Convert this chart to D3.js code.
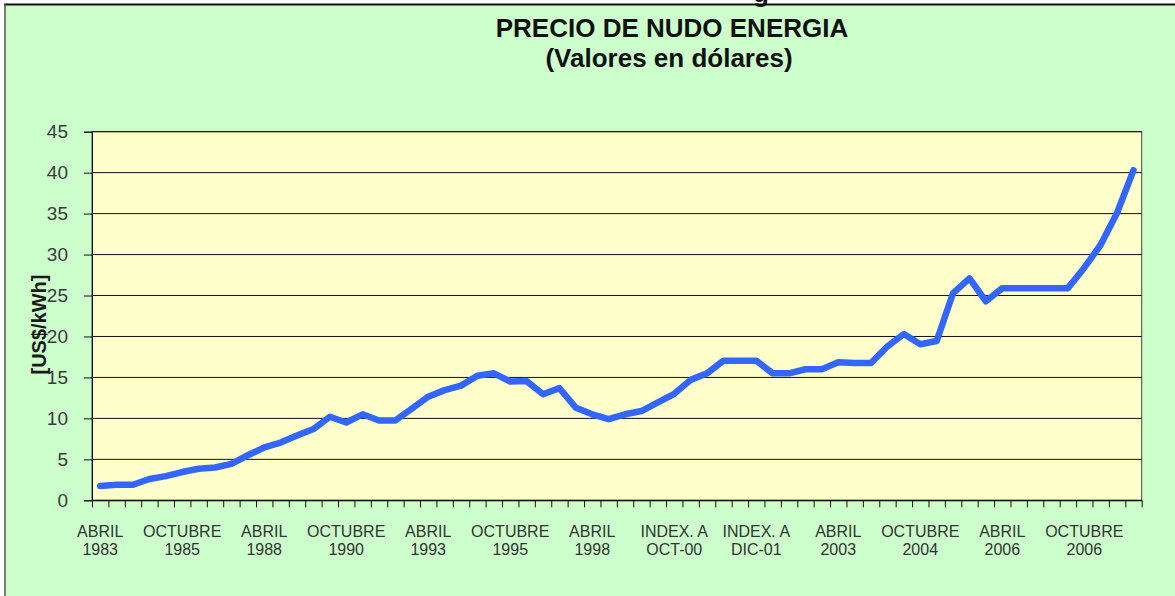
<!DOCTYPE html>
<html>
<head>
<meta charset="utf-8">
<script src="https://cdn.jsdelivr.net/npm/d3@7"></script>
<style>
  body { margin: 0; background: #fff; }
  text { font-family: "Liberation Sans", Arial, sans-serif; }
</style>
</head>
<body>
<div id="chart"></div>
<script>
// precio de nudo, one value per tariff period (64 periods)
var precios = [
  1.75, 1.9, 1.9, 2.6, 2.95, 3.45, 3.85, 4.0, 4.45, 5.5,
  6.45, 7.05, 7.9, 8.7, 10.2, 9.5, 10.5, 9.75, 9.75, 11.2,
  12.65, 13.45, 14.0, 15.2, 15.5, 14.5, 14.55, 12.95, 13.7, 11.3,
  10.5, 9.9, 10.5, 10.9, 11.95, 13.0, 14.7, 15.5, 17.05, 17.05,
  17.05, 15.5, 15.5, 16.0, 16.0, 16.85, 16.75, 16.75, 18.8, 20.3,
  19.05, 19.45, 25.3, 27.1, 24.3, 25.9, 25.9, 25.9, 25.9, 25.9,
  28.4, 31.2, 35.1, 40.3
];

// labels shown under every 5th period
var etiquetas = [
  ["ABRIL", "1983"], ["OCTUBRE", "1985"], ["ABRIL", "1988"], ["OCTUBRE", "1990"],
  ["ABRIL", "1993"], ["OCTUBRE", "1995"], ["ABRIL", "1998"], ["INDEX. A", "OCT-00"],
  ["INDEX. A", "DIC-01"], ["ABRIL", "2003"], ["OCTUBRE", "2004"], ["ABRIL", "2006"],
  ["OCTUBRE", "2006"]
];
var yTicks = [0, 5, 10, 15, 20, 25, 30, 35, 40, 45];

var W = 1175, H = 596;
var pLeft = 92, pRight = 1141.7, pTop = 131.7, pBottom = 500.3;

var svg = d3.select("#chart").append("svg")
  .attr("width", W)
  .attr("height", H);

// outer chart area
svg.append("rect")
  .attr("x", 5).attr("y", 4)
  .attr("width", W - 5).attr("height", H - 4)
  .style("fill", "#CCFFCC");
svg.append("line")
  .attr("x1", 4).attr("x2", W).attr("y1", 4.5).attr("y2", 4.5)
  .style("stroke", "#111").style("stroke-width", 2);
svg.append("line")
  .attr("x1", 5).attr("x2", 5).attr("y1", 4).attr("y2", H)
  .style("stroke", "#555").style("stroke-width", 1.5);

// descender of the heading cut at the top of the page
svg.append("text")
  .attr("x", 753).attr("y", 1.5)
  .style("font-size", "26px").style("font-weight", "bold").style("fill", "#111")
  .text("g");

var x = d3.scaleBand().domain(d3.range(precios.length)).range([pLeft, pRight]).padding(0);
var xEdge = d3.scaleLinear().domain([0, precios.length]).range([pLeft, pRight]);
var y = d3.scaleLinear().domain([0, 45]).range([pBottom, pTop]);

svg.append("rect")
  .attr("x", pLeft).attr("y", pTop)
  .attr("width", pRight - pLeft).attr("height", pBottom - pTop)
  .style("fill", "#FFFFCC")
  .style("stroke", "#444").style("stroke-width", 1);

// gridlines
svg.append("g").selectAll("line")
  .data(yTicks)
  .enter().append("line")
  .attr("x1", pLeft).attr("x2", pRight)
  .attr("y1", function(d) { return y(d); })
  .attr("y2", function(d) { return y(d); })
  .style("stroke", "#111").style("stroke-width", 1);

// y axis
var yAxis = svg.append("g")
  .attr("transform", "translate(" + pLeft + ",0)")
  .call(d3.axisLeft(y).tickValues(yTicks).tickSize(8).tickPadding(16).tickFormat(d3.format("d")));
yAxis.select(".domain").style("stroke", "#111");
yAxis.selectAll("line").style("stroke", "#111");
yAxis.selectAll("text")
  .style("font-size", "19px")
  .style("fill", "#3a3a3a")
  .style("font-family", "'Liberation Sans', Arial, sans-serif");

// x axis: tick marks between periods
var xAxis = svg.append("g")
  .attr("transform", "translate(0," + pBottom + ")")
  .call(d3.axisBottom(xEdge).tickValues(d3.range(precios.length + 1)).tickSize(7).tickSizeOuter(0).tickFormat(""));
xAxis.select(".domain").style("stroke", "#111");
xAxis.selectAll("line").style("stroke", "#111");

var lbl = svg.append("g").selectAll("text")
  .data(etiquetas)
  .enter().append("text")
  .attr("text-anchor", "middle")
  .style("font-size", "16px")
  .style("fill", "#333");
lbl.append("tspan")
  .attr("x", function(d, i) { return x(i * 5) + x.bandwidth() / 2; })
  .attr("y", 536.5)
  .text(function(d) { return d[0]; });
lbl.append("tspan")
  .attr("x", function(d, i) { return x(i * 5) + x.bandwidth() / 2; })
  .attr("y", 555)
  .text(function(d) { return d[1]; });

// series
var line = d3.line()
  .x(function(d, i) { return x(i) + x.bandwidth() / 2; })
  .y(function(d) { return y(d); });

svg.append("path")
  .datum(precios)
  .attr("d", line)
  .style("fill", "none")
  .style("stroke", "#3366FF")
  .style("stroke-width", 6.5)
  .style("stroke-linejoin", "round")
  .style("stroke-linecap", "round");

// titles
svg.append("text")
  .attr("x", 672).attr("y", 37)
  .attr("text-anchor", "middle")
  .style("font-size", "26px").style("font-weight", "bold").style("fill", "#111")
  .text("PRECIO DE NUDO ENERGIA");
svg.append("text")
  .attr("x", 669).attr("y", 66.5)
  .attr("text-anchor", "middle")
  .style("font-size", "26px").style("font-weight", "bold").style("fill", "#111")
  .text("(Valores en dólares)");

svg.append("text")
  .attr("transform", "translate(46,324.5) rotate(-90)")
  .attr("text-anchor", "middle")
  .style("font-size", "20px").style("font-weight", "bold").style("fill", "#1a1a1a")
  .text("[US$/kWh]");
</script>
</body>
</html>
